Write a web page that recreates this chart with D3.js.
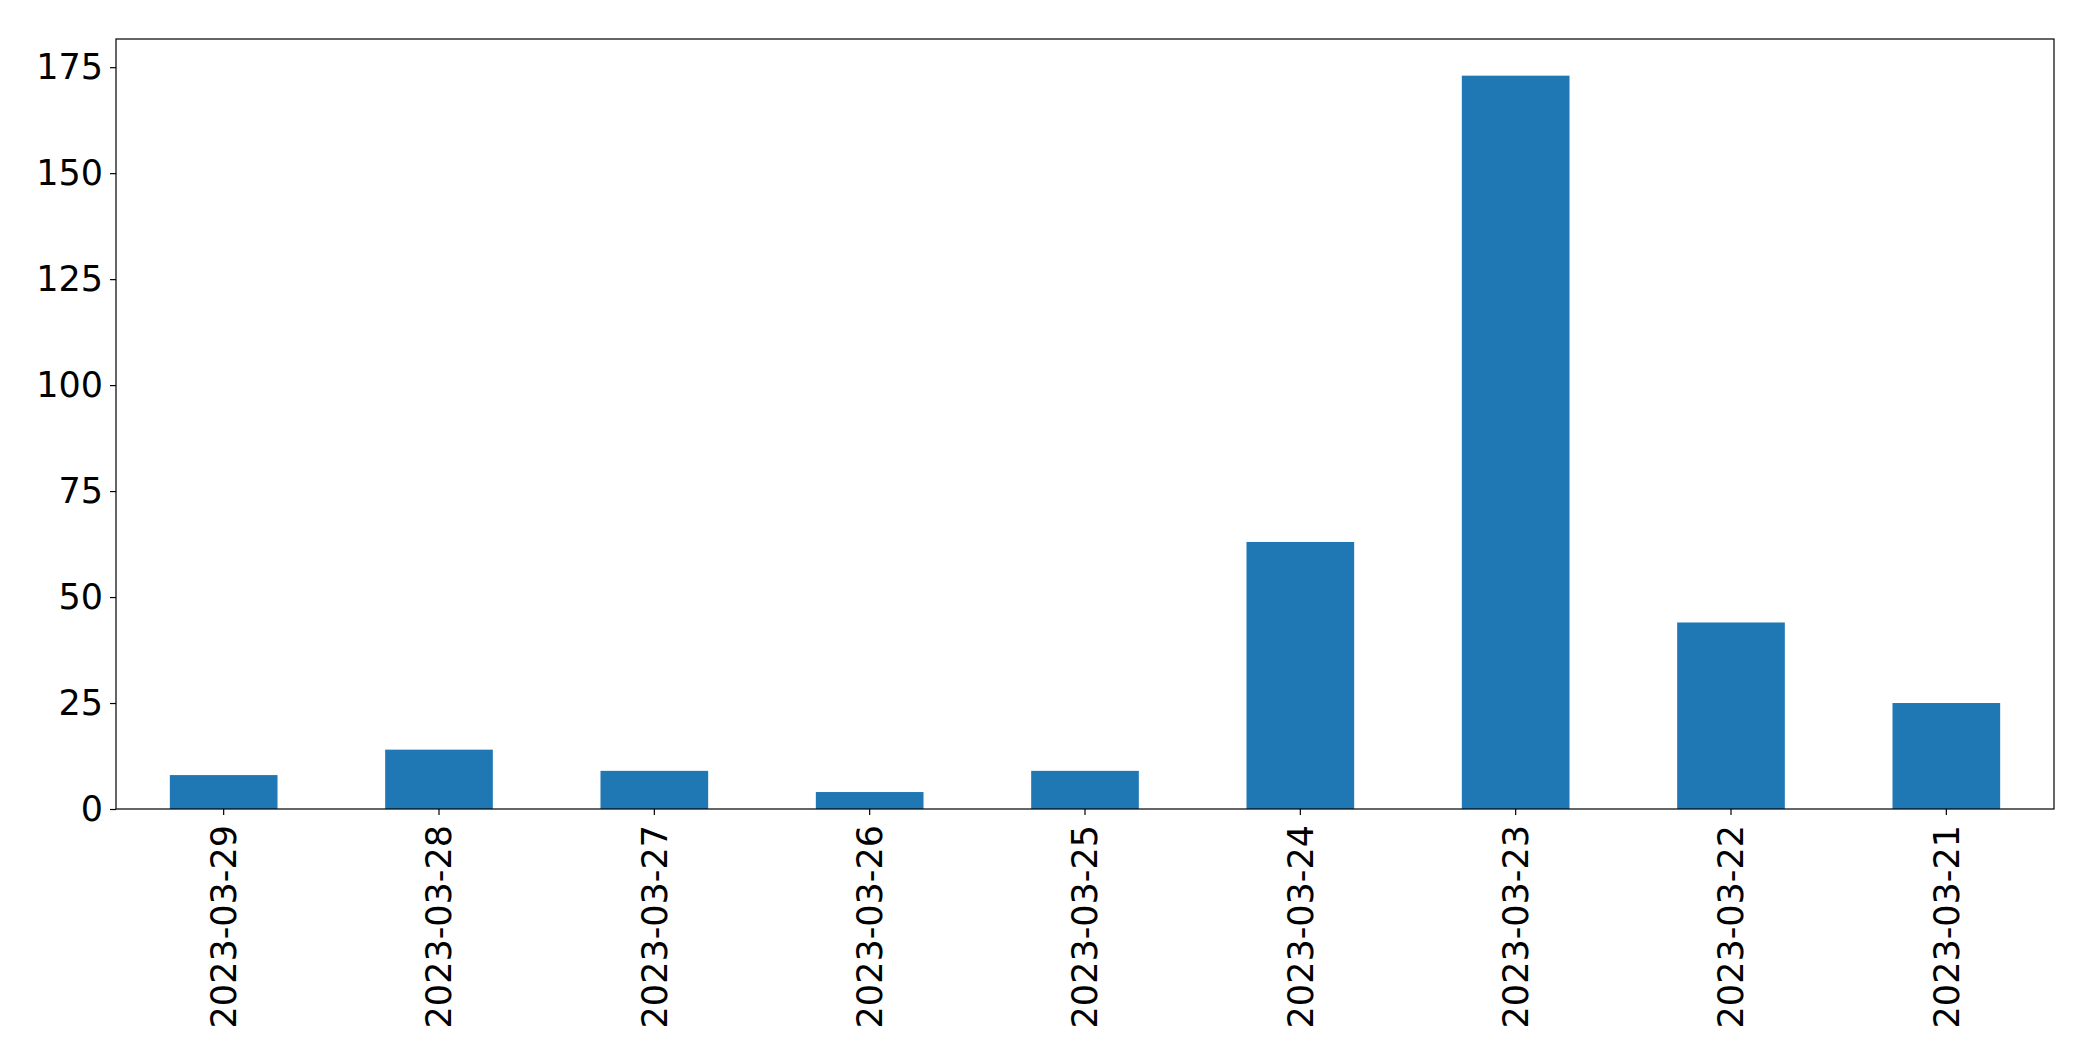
<!DOCTYPE html>
<html>
<head>
<meta charset="utf-8">
<script src="https://cdn.jsdelivr.net/npm/d3@7"></script>
<style>
  html, body { margin: 0; padding: 0; background: #fff; }
  svg { display: block; }
</style>
</head>
<body>
<script>
const categories = ["2023-03-29","2023-03-28","2023-03-27","2023-03-26","2023-03-25","2023-03-24","2023-03-23","2023-03-22","2023-03-21"];
const values = [8, 14, 9, 4, 9, 63, 173, 44, 25];
const yTicks = [0, 25, 50, 75, 100, 125, 150, 175];

const W = 2093, H = 1061;
const margin = {left: 116, top: 39, right: W - 2054, bottom: H - 809};
const iw = W - margin.left - margin.right, ih = H - margin.top - margin.bottom;
const FONT = "DejaVu Sans, sans-serif";
const FS = 35;

const svg = d3.select("body").append("svg").attr("width", W).attr("height", H);
const g = svg.append("g").attr("transform", `translate(${margin.left},${margin.top})`);

const x = d3.scaleBand().domain(categories).range([0, iw]).paddingInner(0.5).paddingOuter(0.25);
const yMax = d3.max(values) * 1.05;
const y = d3.scaleLinear().domain([0, yMax]).range([ih, 0]);

g.selectAll("rect.bar").data(values).enter().append("rect")
  .attr("class", "bar")
  .attr("x", (d, i) => x(categories[i]))
  .attr("width", x.bandwidth())
  .attr("y", d => y(d))
  .attr("height", d => y(0) - y(d))
  .attr("fill", "#1f77b4");

const yAxis = g.append("g").call(d3.axisLeft(y).tickValues(yTicks).tickSize(6).tickPadding(7).tickFormat(d3.format("d")));
yAxis.select(".domain").remove();
yAxis.selectAll("line").attr("stroke", "#000").attr("stroke-width", 1.2);
yAxis.selectAll("text").attr("font-family", FONT).attr("font-size", FS).attr("fill", "#000");

const xAxis = g.append("g").attr("transform", `translate(0,${ih})`)
  .call(d3.axisBottom(x).tickSize(6).tickPadding(0));
xAxis.select(".domain").remove();
xAxis.selectAll("line").attr("stroke", "#000").attr("stroke-width", 1.2);
xAxis.selectAll("text")
  .attr("font-family", FONT).attr("font-size", FS).attr("fill", "#000")
  .attr("transform", "rotate(-90)")
  .attr("text-anchor", "end")
  .attr("x", -16)
  .attr("y", 0)
  .attr("dy", "0.35em");

g.append("rect").attr("x", 0).attr("y", 0).attr("width", iw).attr("height", ih)
  .attr("fill", "none").attr("stroke", "#000").attr("stroke-width", 1.2);
</script>
</body>
</html>
